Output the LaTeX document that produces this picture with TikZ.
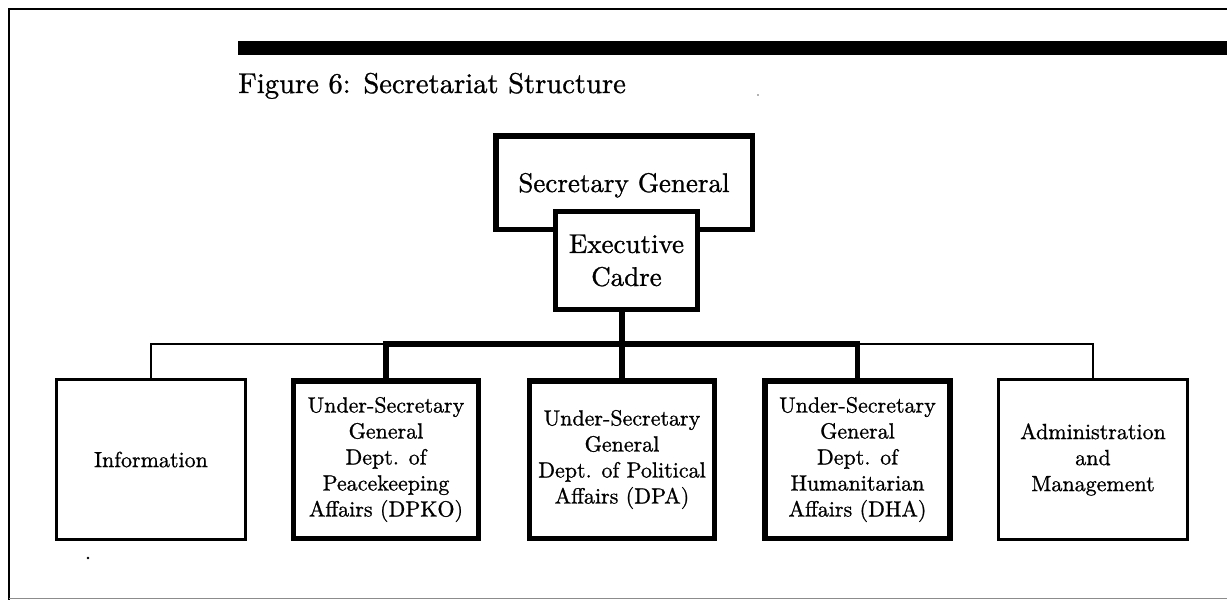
\documentclass[tikz,border=0pt]{standalone}
\usepackage{fontspec}
\newfontfamily\lmw{lmroman10-regular.otf}[FakeBold=0.9]
\begin{document}
\begin{tikzpicture}[x=1pt,y=-1pt,
  thinw/.style={line width=2.6pt},
  thickw/.style={line width=5.5pt},
  unitbox/.style={draw, thinw, fill=white, inner sep=0pt, align=center,
    minimum width=189pt, minimum height=160pt,
    font=\lmw\fontsize{22}{26}\selectfont},
  mainbox/.style={unitbox, thickw, minimum width=185pt, minimum height=157.5pt},
  topbox/.style={draw, thickw, fill=white, inner sep=0pt, align=center,
    font=\lmw\fontsize{27}{33}\selectfont},
]
\useasboundingbox[fill=white] (0,0) rectangle (1227,600);
% outer frame and title bar
\draw[line width=1.5pt] (1227,9) -- (9,9) -- (9,600);
\draw[line width=1.5pt, black!45] (9,598.5) -- (1227,598.5);
\fill (238,41) rectangle (1227,55);
\node[anchor=base west, inner sep=0pt, font=\lmw\fontsize{28.6}{35}\selectfont] (title) at (238,93) {Figure 6: Secretariat Structure};
% top boxes
\node[topbox, minimum width=256.5pt, minimum height=93.5pt, text height=19pt, text depth=0pt] (sg) at (624,182.5) {Secretary General};
\node[topbox, minimum width=142pt, minimum height=98pt] (exec) at (626.5,260.5) {Executive\\Cadre};
% lower boxes
\node[unitbox] (info) at (151,459.5) {Information};
\node[mainbox] (dpko) at (386,459.5) {Under-Secretary\\General\\Dept. of\\Peacekeeping\\Affairs (DPKO)};
\node[mainbox] (dpa) at (622,459.5) {Under-Secretary\\General\\Dept. of Political\\Affairs (DPA)};
\node[mainbox] (dha) at (857.5,459.5) {Under-Secretary\\General\\Dept. of\\Humanitarian\\Affairs (DHA)};
\node[unitbox] (admin) at (1093,459.5) {Administration\\and\\Management};
% connectors
\coordinate (bus) at (622,344);
\draw[thickw] (exec.south -| bus) -- (bus) -- (dpa.north);
\draw[thinw] (info.north) |- (dpko.north |- bus);
\draw[thinw] (admin.north) |- (dha.north |- bus);
\draw[thickw] (dpko.north) |- (bus) -| (dha.north);
% specks
\fill (88,558) circle (1.3);
\fill[black!60] (758,95) circle (0.8);
\end{tikzpicture}
\end{document}
